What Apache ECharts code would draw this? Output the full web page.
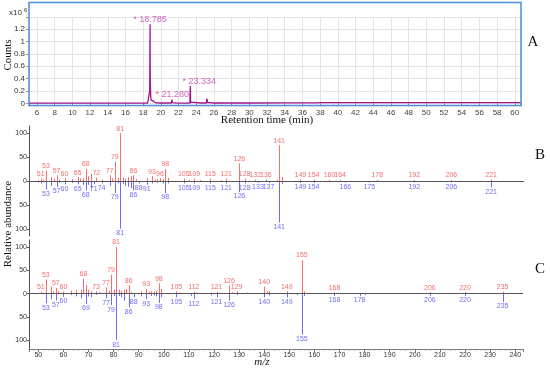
<!DOCTYPE html>
<html><head><meta charset="utf-8">
<script src="https://cdn.jsdelivr.net/npm/echarts@6/dist/echarts.min.js"></script>
<style>html,body{margin:0;padding:0;background:#fff}#c{width:550px;height:369px}</style>
</head><body><div id="c"></div>
<script>
// ---- Panel A: total ion chromatogram ----
const rtTimes  = [5.1, 5.8, 5.88, 5.95, 10, 15, 18.5, 18.7, 18.74, 18.77, 18.785, 18.8, 18.82, 18.85, 18.9, 18.95, 19.0, 19.05, 19.1, 19.2, 19.25, 19.35, 19.45, 20.0, 20.5, 21.2, 21.25, 21.28, 21.32, 21.9, 21.95, 22.0, 23.28, 23.31, 23.334, 23.36, 23.4, 24.6, 24.65, 24.7, 25.15, 25.2, 25.3, 25.55, 25.62, 25.7, 26.0, 30, 34, 37.5, 38.2, 38.5, 41.0, 41.2, 41.4, 43.9, 44.0, 44.1, 46.9, 47.0, 47.1, 48.2, 48.3, 48.4, 52, 56, 60.7];
const rtCounts = [0.004, 0.004, 0.012, 0.004, 0.004, 0.004, 0.004, 0.006, 0.2, 1.0, 1.28, 0.42, 0.3, 0.12, 0.05, 0.04, 0.02, 0.035, 0.02, 0.03, 0.015, 0.02, 0.006, 0.005, 0.007, 0.005, 0.06, 0.07, 0.01, 0.004, 0.02, 0.005, 0.005, 0.2, 0.28, 0.02, 0.005, 0.005, 0.03, 0.005, 0.005, 0.075, 0.01, 0.012, 0.04, 0.008, 0.005, 0.005, 0.006, 0.008, 0.012, 0.01, 0.012, 0.02, 0.012, 0.012, 0.025, 0.012, 0.012, 0.025, 0.012, 0.012, 0.035, 0.012, 0.012, 0.012, 0.012];
const peakTimes  = [18.785, 21.280, 23.334];
const peakCounts = [1.28, 0.07, 0.28];
const peakNames  = ['* 18.785', '* 21.280', '* 23.334'];

// ---- Panel B: mirror spectrum ----
const B_mzTop  = [50,51,52,53,55,56,57,58,60,63,65,66,67,68,69,70,72,74,77,78,79,80,81,82,83,84,85,86,87,91,93,94,95,96,97,98,99,105,107,109,111,115,119,121,126,128,132,136,140,141,142,149,154,160,164,178,192,206,221];
const B_intTop = [2,5,3,22,8,4,12,3,6,4,8,5,6,25,10,15,7,3,12,5,40,6,100,7,5,8,10,12,4,6,10,3,4,6,4,25,6,5,2,5,2,5,2,5,37,5,3,3,2,75,8,3,3,2,2,2,2,2,3];
const B_labTop = [51,53,57,60,65,68,72,77,79,81,86,93,96,98,105,109,115,121,126,128,132,136,141,149,154,160,164,178,192,206,221];
const B_mzBot  = [50,51,53,55,57,58,60,63,65,67,68,69,70,71,74,77,79,80,81,82,83,84,85,86,88,91,93,95,97,98,99,105,109,115,121,126,128,133,137,141,142,149,154,166,175,192,206,221];
const B_intBot = [3,5,18,10,12,4,7,4,7,8,20,8,15,7,5,10,25,5,100,6,10,12,15,20,5,8,5,3,5,25,5,5,5,5,5,23,5,4,4,87,6,4,4,3,3,3,3,13];
const B_labBot = [53,57,60,65,68,71,74,79,81,86,88,91,98,105,109,115,121,126,128,133,137,141,149,154,166,175,192,206,221];

// ---- Panel C: mirror spectrum ----
const C_mzTop  = [50,51,53,55,56,57,58,60,63,65,67,68,69,70,71,73,74,77,78,79,80,81,82,83,84,85,86,87,91,93,94,95,96,97,98,99,105,106,112,113,119,121,122,126,127,129,133,140,141,142,149,155,156,168,206,220,235];
const C_intTop = [2,4,30,15,5,12,5,4,6,8,8,32,18,8,5,5,3,13,6,40,8,100,8,6,8,10,18,4,5,10,4,5,4,6,22,10,5,2,4,2,2,4,2,18,3,5,2,15,5,5,5,72,5,3,3,3,4];
const C_labTop = [51,53,57,60,68,73,77,79,81,86,93,98,105,112,121,126,129,140,149,155,168,206,220,235];
const C_mzBot  = [53,55,57,60,63,65,67,69,70,71,73,77,79,80,81,82,83,84,86,88,91,93,95,96,97,98,99,105,111,112,119,121,126,129,140,142,149,153,155,156,168,178,180,206,220,235];
const C_intBot = [21,12,15,7,3,6,10,22,6,8,3,10,25,5,100,5,8,15,30,8,6,12,5,4,6,20,8,8,5,12,4,8,15,3,8,4,8,3,88,5,5,5,3,5,5,18];
const C_labBot = [53,57,60,69,77,79,81,86,88,93,98,105,112,121,126,140,149,155,168,178,206,220,235];

// styling only (label nudges for the peak annotations, px)
const peakLabelShift = [0, 0, 9];

const RED = '#ff6b6b', BLUE = '#6b6bff', REDT = '#f04848', BLUET = '#4848f0';
const SERIF = '"Liberation Serif","Times New Roman",serif';
const SANS = '"Liberation Sans",Arial,sans-serif';

function pairs(mz, it, sign) { return mz.map((m, i) => [m, sign * it[i]]); }
function labelPairs(mz, it, lab, sign) {
  return lab.map(m => { const i = mz.indexOf(m); return [m, sign * it[i]]; });
}
function stickSeries(xi, yi, data, color) {
  return {
    type: 'custom', xAxisIndex: xi, yAxisIndex: yi, silent: true,
    data: data,
    renderItem: function (params, api) {
      const p0 = api.coord([api.value(0), 0]);
      const p1 = api.coord([api.value(0), api.value(1)]);
      return { type: 'line', shape: { x1: Math.round(p0[0]) + 0.5, y1: p0[1], x2: Math.round(p1[0]) + 0.5, y2: p1[1] }, style: { stroke: color, lineWidth: 1 } };
    }
  };
}
function labelSeries(xi, yi, data, color, pos) {
  return {
    type: 'scatter', xAxisIndex: xi, yAxisIndex: yi, symbolSize: 0, silent: true,
    data: data,
    label: { show: true, position: pos, distance: 1, color: color, fontSize: 7, fontFamily: SANS,
      formatter: p => String(p.value[0]) }
  };
}
function zeroLine(xi, yi) {
  return { type: 'line', xAxisIndex: xi, yAxisIndex: yi, data: [], silent: true,
    markLine: { symbol: 'none', silent: true, label: { show: false },
      lineStyle: { color: '#555', width: 1, type: 'solid' }, data: [{ yAxis: 0 }] } };
}
function mirrorY(gi, mn, mx) {
  return {
    type: 'value', gridIndex: gi, min: mn, max: mx, splitNumber: 5,
    axisLine: { show: true, lineStyle: { color: '#555', width: 1 } },
    axisTick: { show: true, length: 2, customValues: [-100, -50, 0, 50, 100], lineStyle: { color: '#555' } },
    axisLabel: { show: true, fontSize: 7, color: '#333', margin: 2, fontFamily: SANS,
      customValues: [-100, -50, 0, 50, 100], formatter: v => String(Math.abs(v)) },
    splitLine: { show: false }
  };
}

const chart = echarts.init(document.getElementById('c'), null, { renderer: 'canvas' });
chart.setOption({
  animation: false,
  backgroundColor: '#fff',
  grid: [
    { left: 29, width: 492, top: 16.9, height: 86.4 },
    { left: 29, width: 495, top: 126, height: 110 },
    { left: 29, width: 494, top: 240, height: 109 }
  ],
  xAxis: [
    { type: 'value', gridIndex: 0, min: 5.1, max: 60.7, splitNumber: 28,
      axisLine: { show: false },
      axisTick: { show: true, length: 3, lineStyle: { color: '#999' } },
      axisLabel: { fontSize: 8, color: '#444', margin: 5, fontFamily: SANS,
        formatter: v => (Math.abs(v - Math.round(v)) < 1e-6 && Math.round(v) % 2 === 0) ? String(Math.round(v)) : '' },
      splitLine: { show: true, lineStyle: { color: '#e4e4e4', width: 1 } } },
    { type: 'value', gridIndex: 1, min: 46.6, max: 233.4, show: false },
    { type: 'value', gridIndex: 2, min: 46.3, max: 243.1, splitNumber: 20,
      axisLine: { show: true, onZero: false, lineStyle: { color: '#777', width: 1 } },
      axisTick: { show: true, length: 3, lineStyle: { color: '#777' } },
      minorTick: { show: true, splitNumber: 5, length: 1.5, lineStyle: { color: '#888' } },
      axisLabel: { fontSize: 7, color: '#333', margin: 3, fontFamily: SANS,
        formatter: v => (Math.abs(v / 10 - Math.round(v / 10)) < 1e-6) ? String(Math.round(v)) : '' },
      splitLine: { show: false } }
  ],
  yAxis: [
    { type: 'value', gridIndex: 0, min: 0, max: 1.4, splitNumber: 7,
      axisLine: { show: false },
      axisTick: { show: true, length: 3, lineStyle: { color: '#999' } },
      axisLabel: { fontSize: 8, color: '#333', margin: 4, fontFamily: SANS,
        formatter: v => (v > 1.3) ? '' : String(Math.round(v * 10) / 10) },
      splitLine: { show: true, lineStyle: { color: '#e4e4e4', width: 1 } } },
    mirrorY(1, -115, 115),
    mirrorY(2, -119, 115)
  ],
  series: [
    { type: 'line', xAxisIndex: 0, yAxisIndex: 0, silent: true, symbol: 'none',
      data: rtTimes.map((t, i) => [t, rtCounts[i]]),
      lineStyle: { color: '#a3168a', width: 1.3 } },
    { type: 'scatter', xAxisIndex: 0, yAxisIndex: 0, symbolSize: 0, silent: true,
      data: peakTimes.map((t, i) => ({ value: [t, peakCounts[i], peakNames[i]], label: { offset: [peakLabelShift[i], 0] } })),
      label: { show: true, position: 'top', distance: 0, color: '#c43cae', fontSize: 9, fontFamily: SANS,
        formatter: p => p.value[2] } },
    zeroLine(1, 1),
    stickSeries(1, 1, pairs(B_mzTop, B_intTop, 1), RED),
    stickSeries(1, 1, pairs(B_mzBot, B_intBot, -1), BLUE),
    labelSeries(1, 1, labelPairs(B_mzTop, B_intTop, B_labTop, 1), REDT, 'top'),
    labelSeries(1, 1, labelPairs(B_mzBot, B_intBot, B_labBot, -1), BLUET, 'bottom'),
    zeroLine(2, 2),
    stickSeries(2, 2, pairs(C_mzTop, C_intTop, 1), RED),
    stickSeries(2, 2, pairs(C_mzBot, C_intBot, -1), BLUE),
    labelSeries(2, 2, labelPairs(C_mzTop, C_intTop, C_labTop, 1), REDT, 'top'),
    labelSeries(2, 2, labelPairs(C_mzBot, C_intBot, C_labBot, -1), BLUET, 'bottom')
  ],
  graphic: [
    { type: 'rect', shape: { x: 29, y: 2.5, width: 492, height: 103 }, style: { fill: 'none', stroke: '#4a90d9', lineWidth: 1.5 }, z: 10 },
    { type: 'text', x: 9, y: 7, style: { text: '{a|x10}{b|6}', rich: { a: { fontSize: 8, fontFamily: SANS, fill: '#333' }, b: { fontSize: 6, fontFamily: SANS, fill: '#333', verticalAlign: 'top', padding: [0, 0, 5, 2] } } } },
    { type: 'text', x: 8, y: 55, rotation: Math.PI / 2, style: { text: 'Counts', font: '11px ' + SERIF, fill: '#111', align: 'center', verticalAlign: 'middle' } },
    { type: 'text', x: 267, y: 120, style: { text: 'Retention time (min)', font: '11px ' + SERIF, fill: '#111', align: 'center', verticalAlign: 'middle' } },
    { type: 'text', x: 8, y: 224, rotation: Math.PI / 2, style: { text: 'Relative abundance', font: '11px ' + SERIF, fill: '#111', align: 'center', verticalAlign: 'middle' } },
    { type: 'text', x: 262, y: 362, style: { text: 'm/z', font: 'italic 11px ' + SERIF, fill: '#111', align: 'center', verticalAlign: 'middle' } },
    { type: 'text', x: 533, y: 42, style: { text: 'A', font: '15px ' + SERIF, fill: '#111', align: 'center', verticalAlign: 'middle' } },
    { type: 'text', x: 540, y: 155, style: { text: 'B', font: '15px ' + SERIF, fill: '#111', align: 'center', verticalAlign: 'middle' } },
    { type: 'text', x: 540, y: 269, style: { text: 'C', font: '15px ' + SERIF, fill: '#111', align: 'center', verticalAlign: 'middle' } }
  ]
});
</script>
</body></html>
